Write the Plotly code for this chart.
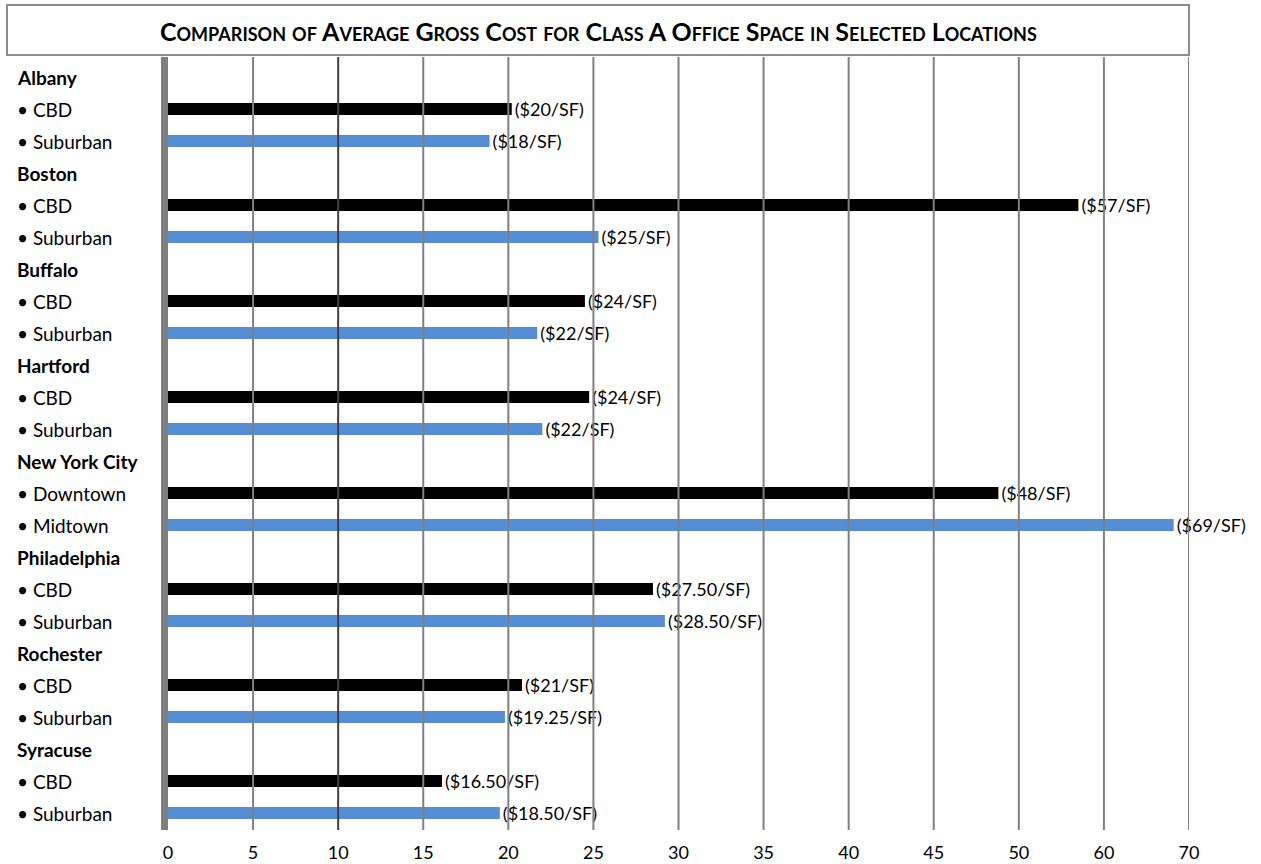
import plotly.graph_objects as go

# ---------------- data ----------------
groups = ["Albany", "Boston", "Buffalo", "Hartford", "New York City",
          "Philadelphia", "Rochester", "Syracuse"]
first_names = ["CBD", "CBD", "CBD", "CBD", "Downtown", "CBD", "CBD", "CBD"]
second_names = ["Suburban", "Suburban", "Suburban", "Suburban", "Midtown",
                "Suburban", "Suburban", "Suburban"]
first_values = [20.2, 57.0, 24.5, 24.75, 48.8, 28.5, 20.8, 16.1]
second_values = [18.9, 25.3, 21.7, 22.0, 68.2, 29.2, 19.8, 19.5]
first_labels = ["($20/SF)", "($57/SF)", "($24/SF)", "($24/SF)", "($48/SF)",
                "($27.50/SF)", "($21/SF)", "($16.50/SF)"]
second_labels = ["($18/SF)", "($25/SF)", "($22/SF)", "($22/SF)", "($69/SF)",
                 "($28.50/SF)", "($19.25/SF)", "($18.50/SF)"]
tick_values = [0, 5, 10, 15, 20, 25, 30, 35, 40, 45, 50, 60, 70]
axis_break = 50          # above this value the axis is compressed 2:1
title_text = "Comparison of Average Gross Cost for Class A Office Space in Selected Locations"


def to_axis(v):
    return v if v <= axis_break else axis_break + (v - axis_break) / 2.0


# ---------------- geometry ----------------
W, H = 1261, 864
L, R, T, B = 168, 1189, 57, 830
FONT = "Lato"


def px_x(px):
    return (px - L) / (R - L)


def px_y(py):
    return (B - py) / (B - T)


first_rows = [3 * i + 1 for i in range(len(groups))]
second_rows = [3 * i + 2 for i in range(len(groups))]
head_rows = [3 * i for i in range(len(groups))]

fig = go.Figure()
fig.add_trace(go.Bar(
    orientation="h",
    x=[to_axis(v) for v in first_values], y=first_rows,
    width=0.375, marker=dict(color="#000000", line=dict(width=0)),
    text=first_labels, textposition="outside", cliponaxis=False,
    constraintext="none",
    textfont=dict(family=FONT, size=18, color="#000000"),
    hoverinfo="skip", showlegend=False))
fig.add_trace(go.Bar(
    orientation="h",
    x=[to_axis(v) for v in second_values], y=second_rows,
    width=0.375, marker=dict(color="#558ED5", line=dict(width=0)),
    text=second_labels, textposition="outside", cliponaxis=False,
    constraintext="none",
    textfont=dict(family=FONT, size=18, color="#000000"),
    hoverinfo="skip", showlegend=False))

annotations = []
for g, r in zip(groups, head_rows):
    annotations.append(dict(text="<b>%s</b>" % g, x=px_x(15), xref="paper",
                            y=r, yref="y", xanchor="left", yanchor="middle",
                            showarrow=False,
                            font=dict(family=FONT, size=19, color="#000000")))
for names, rows in ((first_names, first_rows), (second_names, second_rows)):
    for n, r in zip(names, rows):
        annotations.append(dict(text="\u2022 " + n, x=px_x(15), xref="paper",
                                y=r, yref="y", xanchor="left", yanchor="middle",
                                showarrow=False,
                                font=dict(family=FONT, size=19, color="#000000")))
annotations.append(dict(text=title_text, x=px_x(598), xref="paper",
                        y=px_y(31), yref="paper", xanchor="center",
                        yanchor="middle", showarrow=False,
                        font=dict(family=FONT, size=25, color="#000000",
                                  weight="bold", variant="small-caps")))

shapes = [dict(type="rect", xref="paper", yref="paper",
               x0=px_x(7), x1=px_x(1189), y0=px_y(55), y1=px_y(5),
               line=dict(color="#8C8C8C", width=2), fillcolor="white",
               layer="below")]
for tv in tick_values[1:]:
    shapes.append(dict(type="line", xref="x", yref="paper",
                       x0=to_axis(tv), x1=to_axis(tv), y0=0, y1=1,
                       line=dict(color="#404040" if tv == 10 else "#808080",
                                 width=2),
                       layer="above"))

fig.update_layout(
    width=W, height=H,
    margin=dict(l=L, r=W - R, t=T, b=H - B, pad=0),
    paper_bgcolor="white", plot_bgcolor="white",
    barmode="overlay",
    annotations=annotations, shapes=shapes,
    xaxis=dict(range=[0, to_axis(tick_values[-1])],
               tickvals=[to_axis(v) for v in tick_values],
               ticktext=[str(v) for v in tick_values],
               showgrid=False, zeroline=False, showline=False, ticks="",
               ticklabelstandoff=10, automargin=False, fixedrange=True,
               tickfont=dict(family=FONT, size=18, color="#000000")),
    yaxis=dict(range=[23.53, -0.625], showticklabels=False, showgrid=False,
               zeroline=False, showline=True, linewidth=7,
               linecolor="#7F7F7F", ticks="", automargin=False,
               fixedrange=True),
)

fig.write_html("out.html")
